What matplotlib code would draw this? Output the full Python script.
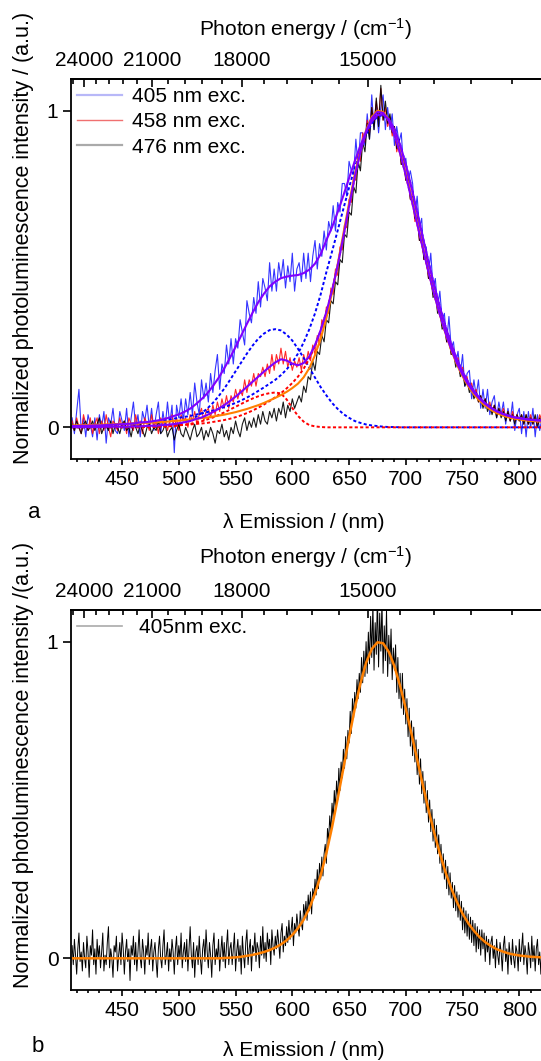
import numpy as np
import matplotlib
matplotlib.use("Agg")
import matplotlib.pyplot as plt
from matplotlib.lines import Line2D
from matplotlib.ticker import FixedLocator, FuncFormatter

plt.rcParams['font.family'] = ['Liberation Sans', 'DejaVu Sans']
plt.rcParams['mathtext.fontset'] = 'custom'
plt.rcParams['mathtext.rm'] = 'Liberation Sans'
plt.rcParams['mathtext.it'] = 'Liberation Sans:italic'
plt.rcParams['mathtext.default'] = 'regular'

# panel a spectra, every 2 nm (406 ... 820 nm)
wl = np.arange(406, 821, 2)

pl_405 = [
    0.03, -0.02, 0.05, 0.12, -0.01, 0.03, -0.03, 0.04, 0.01, -0.03,
    0.03, -0.04, 0.04, 0.00, 0.05, -0.05, 0.03, 0.01, 0.06, -0.01,
    -0.02, 0.05, 0.02, -0.01, 0.06, -0.03, 0.03, 0.08, 0.00, 0.04,
    -0.03, 0.05, 0.02, 0.07, 0.00, 0.06, -0.01, 0.04, 0.08, -0.02,
    0.05, 0.00, 0.08, 0.01, 0.07, -0.08, 0.07, 0.03, 0.09, 0.02,
    0.09, 0.04, 0.11, 0.04, 0.14, 0.08, 0.04, 0.15, 0.09, 0.14,
    0.08, 0.17, 0.11, 0.18, 0.23, 0.12, 0.20, 0.17, 0.26, 0.20,
    0.28, 0.20, 0.28, 0.25, 0.34, 0.30, 0.26, 0.40, 0.36, 0.33,
    0.41, 0.36, 0.46, 0.38, 0.47, 0.44, 0.40, 0.52, 0.43, 0.50,
    0.43, 0.52, 0.47, 0.53, 0.44, 0.51, 0.46, 0.55, 0.43, 0.50,
    0.52, 0.46, 0.55, 0.47, 0.55, 0.46, 0.54, 0.59, 0.50, 0.58,
    0.54, 0.62, 0.56, 0.65, 0.62, 0.70, 0.62, 0.71, 0.68, 0.77,
    0.77, 0.73, 0.84, 0.81, 0.80, 0.91, 0.82, 0.93, 0.93, 0.89,
    0.99, 0.91, 1.05, 0.94, 1.02, 0.93, 1.01, 1.05, 0.94, 1.01,
    0.94, 0.99, 0.89, 0.95, 0.90, 0.93, 0.82, 0.85, 0.78, 0.81,
    0.77, 0.67, 0.73, 0.63, 0.66, 0.53, 0.57, 0.49, 0.55, 0.44,
    0.47, 0.38, 0.43, 0.34, 0.36, 0.27, 0.35, 0.25, 0.27, 0.20,
    0.24, 0.17, 0.23, 0.13, 0.17, 0.18, 0.09, 0.15, 0.10, 0.15,
    0.06, 0.12, 0.06, 0.12, 0.04, 0.08, 0.10, 0.03, 0.08, 0.04,
    0.08, 0.01, 0.06, 0.02, 0.08, -0.01, 0.04, 0.06, -0.02, 0.05,
    -0.03, 0.05, 0.00, 0.06, -0.03, 0.04, -0.01, 0.03,
]
pl_458 = [
    0.02, -0.01, 0.03, 0.00, -0.02, 0.04, 0.01, -0.01, 0.03, -0.02,
    0.01, 0.03, -0.02, 0.02, -0.01, 0.04, 0.00, -0.03, 0.02, 0.01,
    -0.01, 0.03, 0.00, 0.02, -0.02, 0.03, 0.01, -0.01, 0.04, 0.00,
    0.02, -0.02, 0.03, 0.01, -0.01, 0.04, 0.00, 0.02, -0.02, 0.03,
    0.01, 0.03, -0.01, 0.02, 0.04, 0.00, 0.03, -0.01, 0.04, 0.02,
    0.03, 0.00, 0.04, 0.02, 0.05, 0.01, 0.04, 0.06, 0.02, 0.05,
    0.06, 0.03, 0.07, 0.04, 0.08, 0.05, 0.09, 0.06, 0.10, 0.06,
    0.10, 0.08, 0.12, 0.09, 0.12, 0.10, 0.15, 0.11, 0.15, 0.13,
    0.17, 0.13, 0.17, 0.16, 0.19, 0.16, 0.20, 0.17, 0.23, 0.18,
    0.23, 0.20, 0.25, 0.20, 0.24, 0.19, 0.22, 0.18, 0.21, 0.19,
    0.22, 0.18, 0.23, 0.20, 0.24, 0.21, 0.26, 0.23, 0.29, 0.26,
    0.34, 0.32, 0.38, 0.36, 0.44, 0.42, 0.50, 0.48, 0.57, 0.56,
    0.64, 0.63, 0.72, 0.71, 0.79, 0.78, 0.87, 0.84, 0.93, 0.90,
    0.97, 0.93, 1.01, 0.96, 1.03, 0.97, 1.07, 0.97, 1.01, 0.95,
    0.98, 0.92, 0.95, 0.87, 0.90, 0.83, 0.85, 0.78, 0.79, 0.72,
    0.73, 0.65, 0.67, 0.59, 0.61, 0.53, 0.54, 0.47, 0.48, 0.42,
    0.43, 0.37, 0.38, 0.32, 0.33, 0.27, 0.29, 0.23, 0.25, 0.20,
    0.22, 0.17, 0.19, 0.14, 0.16, 0.12, 0.14, 0.10, 0.12, 0.08,
    0.10, 0.07, 0.09, 0.06, 0.08, 0.05, 0.07, 0.04, 0.06, 0.04,
    0.06, 0.03, 0.05, 0.02, 0.05, 0.02, 0.04, 0.02, 0.04, 0.01,
    0.04, 0.01, 0.04, 0.01, 0.03, 0.01, 0.04, 0.02,
]
pl_476 = [
    0.01, -0.01, 0.02, 0.00, -0.02, 0.01, 0.02, -0.01, 0.00, 0.02,
    -0.01, 0.01, 0.03, -0.02, 0.00, 0.01, -0.01, 0.02, -0.02, 0.01,
    0.00, -0.02, 0.01, 0.02, -0.01, 0.00, -0.03, 0.01, 0.00, -0.02,
    0.01, -0.01, -0.03, 0.00, 0.01, -0.02, 0.00, -0.01, 0.02, -0.02,
    -0.01, 0.01, -0.03, -0.01, 0.00, -0.04, -0.01, 0.01, -0.02, -0.03,
    0.00, -0.02, -0.04, -0.01, 0.01, -0.03, -0.02, 0.00, -0.04, -0.01,
    -0.03, 0.00, -0.02, -0.05, -0.01, -0.02, 0.01, -0.03, -0.01, -0.04,
    0.00, -0.02, 0.02, -0.01, -0.03, 0.01, 0.03, -0.01, 0.02, 0.00,
    0.03, 0.00, 0.04, 0.01, 0.05, 0.02, 0.01, 0.05, 0.03, 0.06,
    0.02, 0.06, 0.04, 0.08, 0.03, 0.07, 0.05, 0.09, 0.06, 0.08,
    0.10, 0.08, 0.13, 0.11, 0.16, 0.15, 0.21, 0.18, 0.24, 0.23,
    0.29, 0.27, 0.34, 0.33, 0.40, 0.39, 0.46, 0.45, 0.53, 0.52,
    0.61, 0.60, 0.68, 0.67, 0.76, 0.74, 0.84, 0.81, 0.90, 0.87,
    0.96, 0.91, 1.01, 0.94, 1.04, 0.95, 1.08, 0.97, 1.03, 0.96,
    0.99, 0.93, 0.95, 0.88, 0.91, 0.83, 0.85, 0.78, 0.79, 0.72,
    0.73, 0.66, 0.67, 0.59, 0.60, 0.53, 0.54, 0.47, 0.48, 0.41,
    0.43, 0.36, 0.37, 0.31, 0.33, 0.27, 0.28, 0.23, 0.24, 0.19,
    0.21, 0.16, 0.18, 0.13, 0.15, 0.11, 0.13, 0.09, 0.11, 0.08,
    0.10, 0.06, 0.09, 0.05, 0.07, 0.04, 0.07, 0.03, 0.06, 0.03,
    0.05, 0.02, 0.05, 0.02, 0.04, 0.01, 0.04, 0.02, 0.04, 0.01,
    0.04, 0.01, 0.03, 0.01, 0.04, 0.00, 0.03, 0.01,
]

# panel b spectrum, read every 1 nm (406 ... 820 nm)
wl_b = np.arange(406, 821, 1)

pl_405_b = [
    0.04, -0.02, 0.06, 0.01, -0.05, 0.03, 0.08, -0.01, 0.02, -0.04,
    0.05, 0.00, -0.03, 0.07, 0.02, -0.06, 0.04, 0.01, 0.09, -0.02,
    0.03, -0.05, 0.06, 0.00, 0.04, -0.03, 0.02, 0.08, -0.04, 0.01,
    -0.02, 0.05, 0.10, -0.03, 0.03, 0.00, -0.06, 0.04, 0.02, 0.07,
    -0.04, 0.01, 0.05, -0.02, 0.08, 0.03, -0.05, 0.02, 0.06, -0.01,
    0.03, -0.07, 0.04, 0.01, 0.07, -0.02, 0.05, -0.04, 0.02, 0.09,
    0.00, -0.03, 0.06, 0.02, -0.05, 0.04, 0.01, 0.08, -0.02, 0.03,
    0.06, -0.04, 0.02, 0.05, -0.01, -0.06, 0.03, 0.07, 0.00, -0.03,
    0.04, 0.09, -0.02, 0.01, 0.05, -0.04, 0.03, -0.01, 0.06, 0.02,
    -0.05, 0.03, 0.07, -0.02, 0.04, 0.00, 0.08, -0.03, 0.02, 0.05,
    -0.01, 0.06, -0.04, 0.03, 0.10, 0.01, -0.03, 0.05, -0.06, 0.02,
    0.04, -0.02, 0.07, 0.00, -0.05, 0.03, 0.06, -0.01, 0.09, 0.02,
    -0.03, 0.05, 0.01, -0.06, 0.04, 0.08, -0.02, 0.03, 0.00, 0.06,
    -0.04, 0.02, 0.07, -0.01, 0.05, -0.03, 0.04, 0.09, -0.02, 0.03,
    0.05, -0.02, 0.03, 0.08, -0.04, 0.02, 0.06, -0.01, 0.04, -0.05,
    0.07, 0.01, -0.03, 0.05, 0.09, -0.02, 0.03, 0.06, -0.04, 0.04,
    0.02, 0.08, -0.01, 0.05, 0.03, -0.03, 0.07, 0.01, 0.10, 0.00,
    0.05, -0.01, 0.08, 0.03, 0.06, -0.02, 0.09, 0.04, 0.01, 0.07,
    0.03, 0.09, 0.05, 0.00, 0.08, 0.11, 0.02, 0.07, 0.04, 0.10,
    0.05, 0.12, 0.06, 0.09, 0.13, 0.04, 0.11, 0.08, 0.14, 0.10,
    0.07, 0.15, 0.11, 0.09, 0.17, 0.13, 0.18, 0.12, 0.20, 0.15,
    0.21, 0.14, 0.22, 0.19, 0.25, 0.20, 0.28, 0.22, 0.30, 0.25,
    0.32, 0.26, 0.33, 0.36, 0.30, 0.41, 0.37, 0.45, 0.40, 0.49,
    0.44, 0.53, 0.47, 0.56, 0.50, 0.60, 0.53, 0.62, 0.57, 0.66,
    0.60, 0.70, 0.63, 0.72, 0.68, 0.78, 0.71, 0.82, 0.76, 0.84,
    0.79, 0.88, 0.82, 0.90, 0.84, 0.95, 0.87, 0.97, 0.89, 1.00,
    0.90, 1.03, 0.93, 1.08, 0.95, 1.12, 0.91, 1.06, 0.96, 1.15,
    0.92, 1.09, 0.97, 1.13, 0.90, 1.05, 0.94, 1.10, 0.89, 1.02,
    0.93, 1.04, 0.88, 0.98, 0.91, 0.99, 0.84, 0.95, 0.82, 0.90,
    0.79, 0.90, 0.77, 0.85, 0.74, 0.82, 0.70, 0.79, 0.67, 0.75,
    0.64, 0.73, 0.62, 0.69, 0.58, 0.66, 0.55, 0.63, 0.52, 0.59,
    0.49, 0.56, 0.46, 0.53, 0.43, 0.50, 0.40, 0.47, 0.37, 0.44,
    0.35, 0.42, 0.33, 0.39, 0.30, 0.36, 0.27, 0.33, 0.25, 0.31,
    0.22, 0.29, 0.20, 0.27, 0.19, 0.24, 0.16, 0.23, 0.15, 0.21,
    0.13, 0.20, 0.12, 0.18, 0.09, 0.16, 0.08, 0.15, 0.07, 0.14,
    0.06, 0.13, 0.05, 0.12, 0.04, 0.11, 0.02, 0.10, 0.03, 0.09,
    0.01, 0.09, 0.03, 0.08, -0.01, 0.07, 0.02, 0.06, -0.02, 0.05,
    0.07, 0.00, 0.04, -0.03, 0.06, 0.01, -0.02, 0.05, 0.02, -0.04,
    0.04, 0.07, -0.01, 0.03, -0.05, 0.05, 0.01, -0.02, 0.06, 0.00,
    -0.03, 0.04, 0.02, -0.04, 0.06, -0.01, 0.03, 0.08, -0.02, 0.04,
    0.01, -0.05, 0.05, 0.02, -0.03, 0.07, -0.01, 0.04, -0.04, 0.03,
    0.06, -0.02, 0.02, -0.05, 0.04,
]

# fitted curves, read every 5 nm (405 ... 820 nm)
fit_wl = np.arange(405, 821, 5)

fit_405_low = [
    0, 0, 0, 0, 0, 0, 0, 0, 0, 0,
    0, 0, 0.001, 0.001, 0.001, 0.002, 0.003, 0.005, 0.008, 0.011,
    0.016, 0.023, 0.033, 0.045, 0.059, 0.077, 0.098, 0.122, 0.149, 0.177,
    0.205, 0.233, 0.258, 0.280, 0.296, 0.307, 0.310, 0.306, 0.293, 0.274,
    0.248, 0.219, 0.188, 0.157, 0.127, 0.101, 0.077, 0.058, 0.042, 0.030,
    0.020, 0.014, 0.009, 0.006, 0.004, 0.002, 0.001, 0.001, 0, 0,
    0, 0, 0, 0, 0, 0, 0, 0, 0, 0,
    0, 0, 0, 0, 0, 0, 0, 0, 0, 0,
    0, 0, 0, 0,
]
fit_405_main = [
    0.004, 0.004, 0.005, 0.005, 0.006, 0.006, 0.007, 0.008, 0.009, 0.010,
    0.011, 0.012, 0.014, 0.015, 0.017, 0.019, 0.021, 0.024, 0.027, 0.030,
    0.033, 0.036, 0.040, 0.044, 0.048, 0.053, 0.058, 0.064, 0.070, 0.077,
    0.085, 0.094, 0.104, 0.115, 0.126, 0.138, 0.150, 0.165, 0.183, 0.205,
    0.233, 0.268, 0.310, 0.360, 0.420, 0.490, 0.555, 0.622, 0.690, 0.757,
    0.820, 0.876, 0.924, 0.960, 0.982, 0.986, 0.972, 0.940, 0.892, 0.830,
    0.758, 0.680, 0.600, 0.522, 0.448, 0.380, 0.318, 0.263, 0.215, 0.175,
    0.142, 0.115, 0.093, 0.076, 0.062, 0.051, 0.043, 0.037, 0.032, 0.029,
    0.026, 0.024, 0.022, 0.021,
]
fit_405_sum = [
    0.004, 0.004, 0.005, 0.005, 0.006, 0.006, 0.007, 0.008, 0.009, 0.010,
    0.011, 0.012, 0.015, 0.016, 0.018, 0.021, 0.024, 0.029, 0.035, 0.041,
    0.049, 0.059, 0.073, 0.089, 0.107, 0.130, 0.156, 0.186, 0.219, 0.254,
    0.290, 0.327, 0.362, 0.395, 0.422, 0.445, 0.460, 0.471, 0.476, 0.479,
    0.481, 0.487, 0.498, 0.517, 0.547, 0.591, 0.632, 0.680, 0.732, 0.787,
    0.840, 0.890, 0.933, 0.966, 0.986, 0.988, 0.973, 0.941, 0.892, 0.830,
    0.758, 0.680, 0.600, 0.522, 0.448, 0.380, 0.318, 0.263, 0.215, 0.175,
    0.142, 0.115, 0.093, 0.076, 0.062, 0.051, 0.043, 0.037, 0.032, 0.029,
    0.026, 0.024, 0.022, 0.021,
]
fit_458_low = [
    0, 0, 0, 0, 0, 0, 0, 0, 0, 0,
    0, 0, 0, 0.001, 0.001, 0.001, 0.002, 0.003, 0.004, 0.006,
    0.008, 0.011, 0.015, 0.019, 0.025, 0.031, 0.039, 0.047, 0.056, 0.065,
    0.074, 0.083, 0.091, 0.098, 0.104, 0.108, 0.110, 0.107, 0.088, 0.061,
    0.036, 0.018, 0.007, 0.003, 0.001, 0, 0, 0, 0, 0,
    0, 0, 0, 0, 0, 0, 0, 0, 0, 0,
    0, 0, 0, 0, 0, 0, 0, 0, 0, 0,
    0, 0, 0, 0, 0, 0, 0, 0, 0, 0,
    0, 0, 0, 0,
]
fit_458_main = [
    0.001, 0.001, 0.001, 0.001, 0.001, 0.001, 0.002, 0.002, 0.002, 0.002,
    0.002, 0.003, 0.003, 0.003, 0.004, 0.004, 0.005, 0.005, 0.006, 0.007,
    0.008, 0.009, 0.011, 0.012, 0.014, 0.017, 0.020, 0.023, 0.027, 0.032,
    0.038, 0.045, 0.053, 0.062, 0.072, 0.083, 0.095, 0.108, 0.123, 0.140,
    0.160, 0.185, 0.217, 0.257, 0.306, 0.364, 0.432, 0.512, 0.602, 0.698,
    0.790, 0.870, 0.934, 0.976, 0.996, 0.993, 0.968, 0.924, 0.865, 0.796,
    0.720, 0.643, 0.565, 0.490, 0.420, 0.356, 0.298, 0.247, 0.203, 0.166,
    0.135, 0.110, 0.090, 0.074, 0.061, 0.051, 0.043, 0.037, 0.032, 0.029,
    0.026, 0.024, 0.023, 0.022,
]
fit_458_sum = [
    0.001, 0.001, 0.001, 0.001, 0.001, 0.001, 0.002, 0.002, 0.002, 0.002,
    0.002, 0.003, 0.003, 0.004, 0.005, 0.005, 0.007, 0.008, 0.010, 0.013,
    0.016, 0.020, 0.026, 0.031, 0.039, 0.048, 0.059, 0.070, 0.083, 0.097,
    0.112, 0.128, 0.144, 0.160, 0.176, 0.191, 0.205, 0.215, 0.211, 0.201,
    0.196, 0.203, 0.224, 0.260, 0.307, 0.364, 0.432, 0.512, 0.602, 0.698,
    0.790, 0.870, 0.934, 0.976, 0.996, 0.993, 0.968, 0.924, 0.865, 0.796,
    0.720, 0.643, 0.565, 0.490, 0.420, 0.356, 0.298, 0.247, 0.203, 0.166,
    0.135, 0.110, 0.090, 0.074, 0.061, 0.051, 0.043, 0.037, 0.032, 0.029,
    0.026, 0.024, 0.023, 0.022,
]
fit_476 = [
    0.006, 0.006, 0.007, 0.007, 0.008, 0.008, 0.009, 0.009, 0.010, 0.011,
    0.011, 0.012, 0.013, 0.014, 0.015, 0.016, 0.017, 0.018, 0.020, 0.021,
    0.023, 0.025, 0.027, 0.029, 0.031, 0.034, 0.037, 0.040, 0.044, 0.048,
    0.053, 0.058, 0.064, 0.070, 0.077, 0.085, 0.093, 0.102, 0.112, 0.124,
    0.138, 0.158, 0.187, 0.228, 0.280, 0.345, 0.425, 0.515, 0.612, 0.708,
    0.798, 0.876, 0.938, 0.980, 1.000, 0.996, 0.972, 0.930, 0.872, 0.804,
    0.728, 0.650, 0.571, 0.494, 0.422, 0.356, 0.297, 0.244, 0.199, 0.161,
    0.130, 0.104, 0.084, 0.068, 0.055, 0.045, 0.038, 0.032, 0.028, 0.025,
    0.022, 0.020, 0.019, 0.018,
]
fit_405_b = [
    0, 0, 0, 0, 0, 0, 0, 0, 0, 0,
    0, 0, 0, 0, 0, 0, 0, 0, 0, 0,
    0, 0, 0, 0, 0, 0, 0, 0.001, 0.002, 0.003,
    0.005, 0.008, 0.011, 0.015, 0.020, 0.026, 0.034, 0.044, 0.057, 0.074,
    0.095, 0.122, 0.158, 0.205, 0.262, 0.332, 0.414, 0.505, 0.600, 0.697,
    0.788, 0.868, 0.933, 0.977, 0.998, 0.995, 0.968, 0.922, 0.860, 0.788,
    0.709, 0.628, 0.547, 0.469, 0.397, 0.331, 0.272, 0.221, 0.178, 0.141,
    0.111, 0.087, 0.067, 0.051, 0.039, 0.029, 0.022, 0.016, 0.012, 0.009,
    0.007, 0.005, 0.004, 0.003,
]

W, H = 541, 1061
FS = 15


def nm_to_wn(x):
    x = np.asarray(x, dtype=float)
    with np.errstate(divide='ignore'):
        return 1e7 / x


def style_axes(ax):
    ax.set_xlim(405, 820)
    ax.set_ylim(-0.1, 1.1)
    ax.set_yticks([0, 1])
    ax.set_yticklabels(['0', '1'])
    ax.xaxis.set_major_locator(FixedLocator(np.arange(450, 801, 50)))
    ax.xaxis.set_minor_locator(FixedLocator(np.arange(410, 821, 10)))
    ax.tick_params(axis='x', which='major', direction='out', length=4, width=1.2,
                   labelsize=FS, pad=4)
    ax.tick_params(axis='x', which='minor', direction='out', length=2.5, width=1.2)
    ax.tick_params(axis='y', direction='out', length=6, width=1.2, labelsize=FS, pad=3)
    ax.spines['right'].set_visible(False)
    for s in ['left', 'bottom', 'top']:
        ax.spines[s].set_linewidth(1.3)
    sec = ax.secondary_xaxis('top', functions=(nm_to_wn, nm_to_wn))
    sec.xaxis.set_major_locator(FixedLocator([15000, 18000, 21000, 24000]))
    sec.xaxis.set_minor_locator(FixedLocator(np.arange(12600, 24700, 600)))
    sec.xaxis.set_major_formatter(FuncFormatter(lambda v, p: f"{v:.0f}"))
    sec.tick_params(which='major', direction='in', length=6, width=1.2, labelsize=FS, pad=6.5)
    sec.tick_params(which='minor', direction='in', length=3.5, width=1.2)
    sec.spines['top'].set_linewidth(1.3)


fig = plt.figure(figsize=(W / 100, H / 100), dpi=100)

# ---- panel a
ax1 = fig.add_axes([71 / W, 1 - 459 / H, 471 / W, 380 / H])
ax1.plot(wl, pl_405, color='#1010ff', lw=0.8, alpha=0.85)
ax1.plot(wl, pl_458, color='#ff1010', lw=0.8, alpha=0.9)
ax1.plot(wl, pl_476, color='black', lw=0.8, alpha=0.9)
ax1.plot(fit_wl, fit_405_low, color='#0000ff', lw=1.4, ls=(0, (1.6, 1.2)))
ax1.plot(fit_wl, fit_405_main, color='#0000ff', lw=1.4, ls=(0, (1.6, 1.2)))
ax1.plot(fit_wl, fit_458_low, color='#ff0000', lw=1.4, ls=(0, (1.6, 1.2)))
ax1.plot(fit_wl, fit_458_main, color='#ff0000', lw=1.4, ls=(0, (1.6, 1.2)))
ax1.plot(fit_wl, fit_476, color='#ff8000', lw=1.5)
ax1.plot(fit_wl, fit_405_sum, color='#8000ff', lw=1.5)
ax1.plot(fit_wl, fit_458_sum, color='#8000ff', lw=1.5)
style_axes(ax1)

handles = [Line2D([], [], color='#b8b8f8', lw=1.6),
           Line2D([], [], color='#f07070', lw=1.0),
           Line2D([], [], color='#aaaaaa', lw=1.6)]
ax1.legend(handles, ['405 nm exc.', '458 nm exc.', '476 nm exc.'], loc='upper left',
           bbox_to_anchor=(0.0, 0.995), frameon=False, fontsize=FS, handlelength=2.15,
           handletextpad=0.5, labelspacing=0.3, borderaxespad=0.0, borderpad=0.3)

# ---- panel b
ax2 = fig.add_axes([71 / W, 1 - 990 / H, 471 / W, 380 / H])
ax2.plot(wl_b, pl_405_b, color='black', lw=0.7)
ax2.plot(fit_wl, fit_405_b, color='#ff8000', lw=1.8)
style_axes(ax2)
ax2.legend([Line2D([], [], color='#aaaaaa', lw=1.2)], ['405nm exc.'], loc='upper left',
           bbox_to_anchor=(0.0, 0.995), frameon=False, fontsize=FS, handlelength=2.15,
           handletextpad=0.8, borderaxespad=0.0, borderpad=0.3)

# ---- labels
for yc, lab in [(238, 'Normalized photoluminescence intensity / (a.u.)'),
                (765, 'Normalized photoluminescence intensity /(a.u.)')]:
    fig.text(24 / W, 1 - yc / H, lab, rotation=90, ha='center', va='center', fontsize=15.5)
for yc in (29, 557):
    fig.text(305 / W, 1 - yc / H, 'Photon energy / (cm$^{-1}$)', ha='center', va='center',
             fontsize=FS)
for yc in (522, 1051):
    fig.text(304 / W, 1 - yc / H, 'λ Emission / (nm)', ha='center', va='center', fontsize=FS)
fig.text(34 / W, 1 - 513 / H, 'a', ha='center', va='center', fontsize=FS + 1)
fig.text(38 / W, 1 - 1047 / H, 'b', ha='center', va='center', fontsize=FS + 1)

fig.savefig('out.png', dpi=100)
